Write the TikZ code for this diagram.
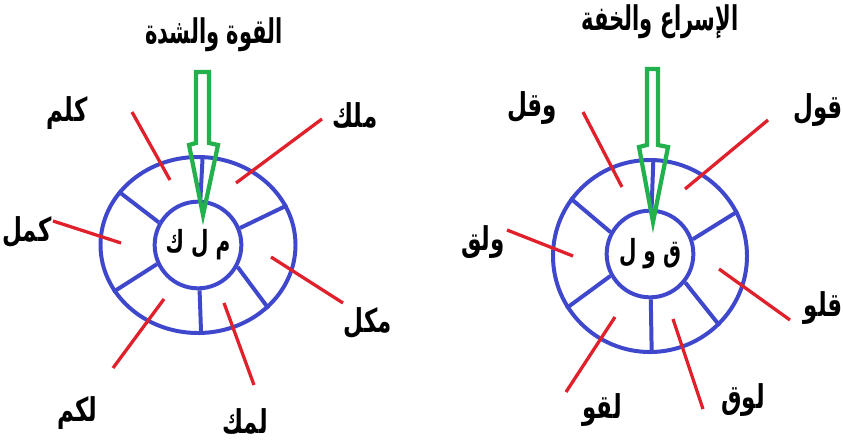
\documentclass[tikz,border=0pt]{standalone}
\usepackage{fontspec}
\usetikzlibrary{shapes.geometric}
\TeXXeTstate=1
\newfontfamily\arabicfont[Script=Arabic]{DejaVu Sans}
\definecolor{pblue}{HTML}{3F48CC}
\definecolor{pred}{HTML}{E0202A}
\definecolor{pgreen}{HTML}{22B14C}
\begin{document}
\begin{tikzpicture}[x=0.03cm,y=-0.03cm,
  outerring/.style={ellipse,draw=pblue,line width=3.4pt,inner sep=0pt},
  innerring/.style={circle,draw=pblue,line width=3.4pt,inner sep=0pt,minimum size=2.6cm,
    font=\arabicfont\bfseries\fontsize{26}{30}\selectfont},
  spoke/.style={draw=pblue,line width=3.4pt},
  redline/.style={draw=pred,line width=2.8pt},
  lbl/.style={inner sep=0pt,font=\arabicfont\bfseries\fontsize{28}{32}\selectfont},
  ttl/.style={inner sep=0pt,font=\arabicfont\bfseries\fontsize{29}{34}\selectfont},
  hollowarrow/.style={draw=pgreen,line width=3.6pt,line join=miter}]
\useasboundingbox (0,0) rectangle (843,442);
\fill[white] (0,0) rectangle (843,442);

% ---------- left diagram ----------
\node[ttl] (T1) at (214,35) {\scalebox{0.62}[1]{\beginR القوة والشدة\endR}};
\node[outerring,minimum width=5.85cm,minimum height=5.28cm] (Lout) at (198,245) {};
\node[innerring] (Lin) at (198,245) {\scalebox{0.66}[1]{\beginR م ل ك\endR}};
\draw[spoke] (Lin.87) -- (Lout.87);
\draw[spoke] (Lin.22) -- (Lout.24.5);
\draw[spoke] (Lin.-29) -- (Lout.-42);
\draw[spoke] (Lin.-88) -- (Lout.-88);
\draw[spoke] (Lin.-155) -- (Lout.-151);
\draw[spoke] (Lin.150) -- (Lout.146);

\coordinate (a1) at (132,112); \coordinate (b1) at (170,180);
\coordinate (a2) at (322,119); \coordinate (b2) at (236,183);
\coordinate (a3) at (53,221);  \coordinate (b3) at (121,243);
\coordinate (a4) at (271,257); \coordinate (b4) at (343,303);
\coordinate (a5) at (164,299); \coordinate (b5) at (113,368);
\coordinate (a6) at (224,303); \coordinate (b6) at (254,385);
\draw[redline] (a1) -- (b1);
\draw[redline] (a2) -- (b2);
\draw[redline] (a3) -- (b3);
\draw[redline] (a4) -- (b4);
\draw[redline] (a5) -- (b5);
\draw[redline] (a6) -- (b6);

\node[lbl] (L1) at (67,113) {\scalebox{0.7}[1]{\beginR كلم\endR}};
\node[lbl] (L2) at (355,115) {\scalebox{0.7}[1]{\beginR ملك\endR}};
\node[lbl] (L3) at (27,232) {\scalebox{0.7}[1]{\beginR كمل\endR}};
\node[lbl] (L4) at (368,323) {\scalebox{0.7}[1]{\beginR مكل\endR}};
\node[lbl] (L5) at (77,413) {\scalebox{0.7}[1]{\beginR لكم\endR}};
\node[lbl] (L6) at (245,421) {\scalebox{0.7}[1]{\beginR لمك\endR}};

\draw[hollowarrow] (196,72) -- (209,72) -- (209,143) -- (218,145) -- (203,215)
  -- (189,145) -- (196,143) -- cycle;

% ---------- right diagram ----------
\node[ttl] (T2) at (660,22) {\scalebox{0.62}[1]{\beginR الإسراع والخفة\endR}};
\node[outerring,minimum width=5.82cm,minimum height=5.76cm] (Rout) at (650,256) {};
\node[innerring] (Rin) at (650,254) {\scalebox{0.66}[1]{\beginR ق و ل\endR}};
\draw[spoke] (Rin.88) -- (Rout.88);
\draw[spoke] (Rin.19) -- (Rout.27);
\draw[spoke] (Rin.-39) -- (Rout.-45);
\draw[spoke] (Rin.-89) -- (Rout.-89);
\draw[spoke] (Rin.-151) -- (Rout.-148);
\draw[spoke] (Rin.151) -- (Rout.144);

\coordinate (c1) at (583,112); \coordinate (d1) at (622,187);
\coordinate (c2) at (768,120); \coordinate (d2) at (685,189);
\coordinate (c3) at (507,230); \coordinate (d3) at (573,256);
\coordinate (c4) at (719,269); \coordinate (d4) at (790,320);
\coordinate (c5) at (615,317); \coordinate (d5) at (566,392);
\coordinate (c6) at (673,319); \coordinate (d6) at (703,409);
\draw[redline] (c1) -- (d1);
\draw[redline] (c2) -- (d2);
\draw[redline] (c3) -- (d3);
\draw[redline] (c4) -- (d4);
\draw[redline] (c5) -- (d5);
\draw[redline] (c6) -- (d6);

\node[lbl] (R1) at (532,108) {\scalebox{0.7}[1]{\beginR وقل\endR}};
\node[lbl] (R2) at (818,110) {\scalebox{0.7}[1]{\beginR قول\endR}};
\node[lbl] (R3) at (483,242) {\scalebox{0.7}[1]{\beginR ولق\endR}};
\node[lbl] (R4) at (823,308) {\scalebox{0.7}[1]{\beginR قلو\endR}};
\node[lbl] (R5) at (602,410) {\scalebox{0.7}[1]{\beginR لقو\endR}};
\node[lbl] (R6) at (743,400) {\scalebox{0.7}[1]{\beginR لوق\endR}};

\draw[hollowarrow] (647,69) -- (658,69) -- (658,145) -- (668,147) -- (653,222)
  -- (639,147) -- (647,145) -- cycle;
\end{tikzpicture}
\end{document}
